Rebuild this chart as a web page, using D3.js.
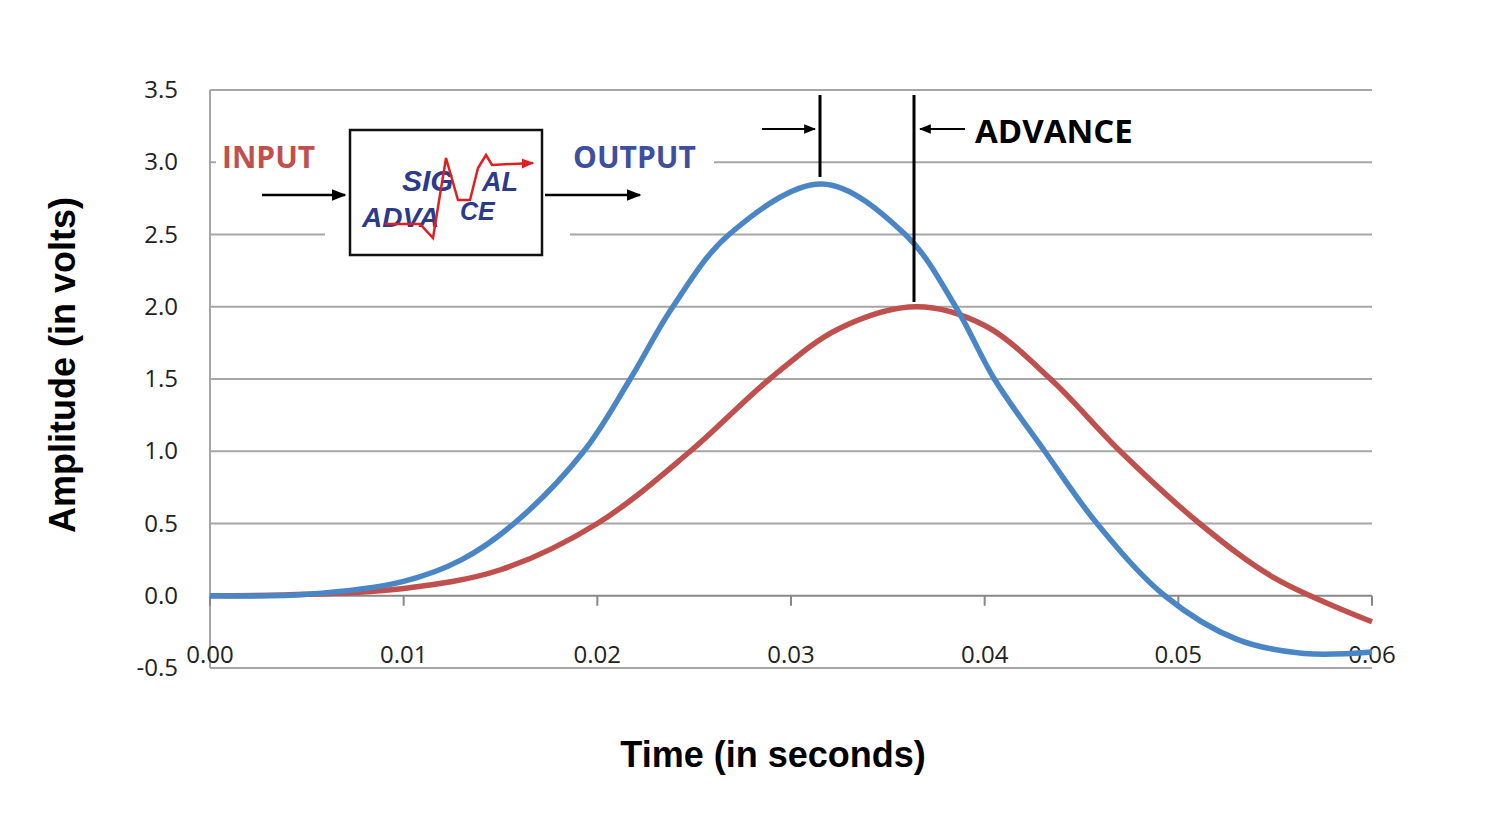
<!DOCTYPE html>
<html><head><meta charset="utf-8">
<script src="https://cdn.jsdelivr.net/npm/d3@7"></script>
<style>body{margin:0;background:#fff}</style></head>
<body><svg id="c" width="1500" height="825"></svg>
<script>
const xTicks=[0,0.01,0.02,0.03,0.04,0.05,0.06];
const yTicks=[-0.5,0,0.5,1,1.5,2,2.5,3,3.5];
const outT=[0,0.005,0.01,0.013,0.0157,0.0193,0.0217,0.0239,0.0268,0.0316,0.0359,0.0385,0.0405,0.0431,0.0458,0.0493,0.053,0.0565,0.06];
const outV=[0,0.01,0.1,0.25,0.5,1.0,1.5,2.0,2.5,2.85,2.5,2.0,1.5,1.0,0.5,0.0,-0.3,-0.4,-0.39];
const inT=[0,0.005,0.01,0.015,0.02,0.0248,0.0289,0.0325,0.0365,0.04,0.0434,0.047,0.0511,0.055,0.06];
const inV=[0,0.01,0.05,0.18,0.5,1.0,1.5,1.85,2.0,1.87,1.5,1.0,0.5,0.12,-0.18];

const svg=d3.select("#c");
const x=d3.scaleLinear().domain([0,0.06]).range([210,1372]);
const y=d3.scaleLinear().domain([-0.5,3.5]).range([668,90]);
const F="'Open Sans',Arial,sans-serif";
svg.append("g").selectAll("line").data(yTicks).join("line")
 .attr("x1",210).attr("x2",1372).attr("y1",d=>y(d)).attr("y2",d=>y(d))
 .attr("stroke",d=>d===0?"#888":"#a6a6a6").attr("stroke-width",2);
svg.append("line").attr("x1",210).attr("x2",210).attr("y1",90).attr("y2",668).attr("stroke","#a6a6a6").attr("stroke-width",2);
svg.append("g").selectAll("line").data(xTicks).join("line")
 .attr("x1",d=>x(d)).attr("x2",d=>x(d)).attr("y1",y(0)).attr("y2",y(0)+10).attr("stroke","#888").attr("stroke-width",2);
svg.append("g").selectAll("text").data(yTicks).join("text")
 .attr("x",178).attr("y",d=>y(d)+8).attr("text-anchor","end").attr("font-family",F).attr("font-size",24).attr("fill","#222")
 .text(d=>d.toFixed(1));
svg.append("g").selectAll("text").data(xTicks).join("text")
 .attr("x",d=>x(d)).attr("y",663).attr("text-anchor","middle").attr("font-family",F).attr("font-size",24).attr("fill","#222")
 .text(d=>d.toFixed(2));
svg.append("rect").attr("x",216).attr("y",138).attr("width",498).attr("height",40).attr("fill","#fff");
svg.append("rect").attr("x",325).attr("y",120).attr("width",245).attr("height",140).attr("fill","#fff");
const line=d3.line().x(d=>x(d[0])).y(d=>y(d[1])).curve(d3.curveCatmullRom.alpha(0.5));
svg.append("path").datum(inT.map((t,i)=>[t,inV[i]])).attr("d",line).attr("fill","none").attr("stroke","#c0504d").attr("stroke-width",5.5);
svg.append("path").datum(outT.map((t,i)=>[t,outV[i]])).attr("d",line).attr("fill","none").attr("stroke","#4a86c5").attr("stroke-width",5.5);
svg.append("text").attr("transform","translate(75,365) rotate(-90)").attr("text-anchor","middle").attr("font-family","Arial,sans-serif").attr("font-weight","bold").attr("font-size",36).text("Amplitude (in volts)");
svg.append("text").attr("x",773).attr("y",767).attr("text-anchor","middle").attr("font-family","Arial,sans-serif").attr("font-weight","bold").attr("font-size",36).text("Time (in seconds)");
const defs=svg.append("defs");
defs.append("marker").attr("id","ah").attr("viewBox","0 0 10 10").attr("refX",9).attr("refY",5).attr("markerWidth",6).attr("markerHeight",6).attr("orient","auto")
 .append("path").attr("d","M0,1L10,5L0,9z").attr("fill","#000");
defs.append("marker").attr("id","ar").attr("viewBox","0 0 10 10").attr("refX",9).attr("refY",5).attr("markerWidth",5).attr("markerHeight",5).attr("orient","auto")
 .append("path").attr("d","M0,1L10,5L0,9z").attr("fill","#e02020");
function arrow(x1,y1,x2,y2,w){svg.append("line").attr("x1",x1).attr("y1",y1).attr("x2",x2).attr("y2",y2).attr("stroke","#000").attr("stroke-width",w||2.5).attr("marker-end","url(#ah)");}
svg.append("text").attr("x",222).attr("y",168).attr("font-family",F).attr("font-weight","bold").attr("font-size",30).attr("fill","#c0504d").text("INPUT");
svg.append("text").attr("x",573).attr("y",168).attr("font-family",F).attr("font-weight","bold").attr("font-size",30).attr("fill","#3f4fa0").text("OUTPUT");
svg.append("text").attr("x",975).attr("y",143).attr("font-family",F).attr("font-weight","bold").attr("font-size",33).attr("fill","#000").text("ADVANCE");
arrow(262,195,345,195);arrow(545,195,640,195);
arrow(762,129,815,129,2);arrow(965,129,920,129,2);
svg.append("line").attr("x1",820).attr("x2",820).attr("y1",95).attr("y2",177).attr("stroke","#000").attr("stroke-width",3);
svg.append("line").attr("x1",914).attr("x2",914).attr("y1",95).attr("y2",302).attr("stroke","#000").attr("stroke-width",3);
svg.append("rect").attr("x",350).attr("y",130).attr("width",192).attr("height",125).attr("fill","#fff").attr("stroke","#111").attr("stroke-width",2.5);
const LF="'Liberation Sans Narrow',Arial,sans-serif";
svg.append("text").attr("x",402).attr("y",191).attr("font-family",LF).attr("font-style","italic").attr("font-weight","bold").attr("font-size",30).attr("fill","#2a3a8c").text("SIG");
svg.append("text").attr("x",482).attr("y",191).attr("font-family",LF).attr("font-style","italic").attr("font-weight","bold").attr("font-size",27).attr("fill","#2a3a8c").text("AL");
svg.append("text").attr("x",362).attr("y",227).attr("font-family",LF).attr("font-style","italic").attr("font-weight","bold").attr("font-size",28).attr("fill","#2a3a8c").text("ADVA");
svg.append("text").attr("x",460).attr("y",220).attr("font-family",LF).attr("font-style","italic").attr("font-weight","bold").attr("font-size",25).attr("fill","#2a3a8c").text("CE");
svg.append("path").attr("d","M385,224 L420,224 L433,238 L446,158 L458,200 L470,200 L478,168 L486,155 L492,165 L533,163")
 .attr("fill","none").attr("stroke","#e02020").attr("stroke-width",2.5).attr("marker-end","url(#ar)");
</script></body></html>
